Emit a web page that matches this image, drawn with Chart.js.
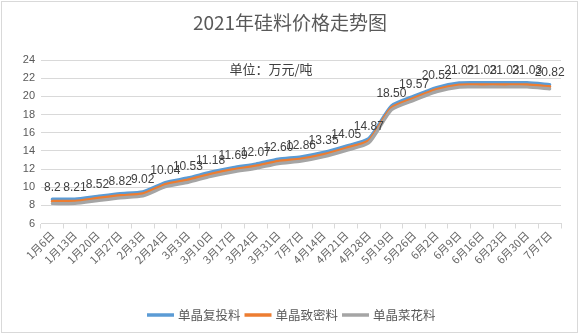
<!DOCTYPE html>
<html>
<head>
<meta charset="utf-8">
<script src="https://cdn.jsdelivr.net/npm/chart.js@4/dist/chart.umd.min.js"></script>
<style>
  html, body { margin: 0; padding: 0; background: #fff; }
  #wrap { width: 580px; height: 335px; }
</style>
</head>
<body>
<div id="wrap"><canvas id="priceChart" width="580" height="335"></canvas></div>
<script>
const categories = ["1月6日", "1月13日", "1月20日", "1月27日", "2月3日", "2月24日", "3月3日", "3月10日", "3月17日", "3月24日", "3月31日", "7月7日",
  "4月14日", "4月21日", "4月28日", "5月19日", "5月26日", "6月2日", "6月9日", "6月16日", "6月23日", "6月30日", "7月7日"];

const seriesNames = ["单晶复投料", "单晶致密料", "单晶菜花料"];
const seriesColors = ["#5b9bd5", "#ed7d31", "#a5a5a5"];

// 复投料 / 致密料 prices (万元/吨)
const fuTouPrices = [8.68, 8.69, 9.0, 9.3, 9.5, 10.52, 11.02, 11.66, 12.17, 12.55, 13.08, 13.34, 13.83, 14.53, 15.35, 18.95, 20.03, 20.98, 21.48, 21.5, 21.5, 21.5, 21.3];
const zhiMiPrices = [8.44, 8.45, 8.76, 9.06, 9.26, 10.28, 10.78, 11.42, 11.93, 12.31, 12.84, 13.1, 13.59, 14.29, 15.11, 18.72, 19.8, 20.75, 21.25, 21.26, 21.26, 21.26, 21.06];
// 菜花料 prices, kept as printed so the labels keep their format
const caiHuaPrices = ["8.2", "8.21", "8.52", "8.82", "9.02", "10.04", "10.53", "11.18", "11.69", "12.07", "12.60", "12.86", "13.35", "14.05", "14.87",
  "18.50", "19.57", "20.52", "21.02", "21.03", "21.03", "21.03", "20.82"];

const yMin = 6, yMax = 24, yStep = 2;

const titleText = "2021年硅料价格走势图";
const unitText = "单位：万元/吨";

const cjk = '"Noto Sans CJK SC", "Noto Sans", sans-serif';
const latin = '"Liberation Sans", Arial, sans-serif';

const decorations = {
  id: "decorations",
  afterDatasetsDraw(chart) {
    const ctx = chart.ctx;
    // value labels above the 菜花料 line
    const meta = chart.getDatasetMeta(2);
    ctx.save();
    ctx.font = "12px " + latin;
    ctx.fillStyle = "#404040";
    ctx.textAlign = "center";
    ctx.textBaseline = "middle";
    meta.data.forEach((pt, i) => ctx.fillText(caiHuaPrices[i], pt.x, pt.y - 16));
    ctx.restore();
  },
  afterDraw(chart) {
    const ctx = chart.ctx;
    ctx.save();
    ctx.strokeStyle = "#d9d9d9";
    ctx.lineWidth = 1;
    ctx.strokeRect(1.5, 1.5, 576, 331);

    ctx.fillStyle = "#595959";
    ctx.textAlign = "center";
    ctx.textBaseline = "middle";
    ctx.font = "19px " + cjk;
    ctx.fillText(titleText, 290, 23);

    ctx.fillStyle = "#404040";
    ctx.font = "13px " + cjk;
    ctx.fillText(unitText, 271, 69);

    // legend
    let x = 147;
    const y = 315;
    ctx.font = "12.5px " + cjk;
    ctx.textAlign = "left";
    seriesNames.forEach((name, i) => {
      ctx.strokeStyle = seriesColors[i];
      ctx.lineWidth = 3.5;
      ctx.beginPath();
      ctx.moveTo(x, y);
      ctx.lineTo(x + 27, y);
      ctx.stroke();
      ctx.fillStyle = "#595959";
      ctx.fillText(name, x + 31, y);
      x += 31 + ctx.measureText(name).width + 4;
    });
    ctx.restore();
  }
};

function lineSet(i, values) {
  return {
    label: seriesNames[i],
    data: values,
    borderColor: seriesColors[i],
    backgroundColor: seriesColors[i],
    borderWidth: 3.2,
    pointRadius: 0,
    tension: 0.2,
    borderCapStyle: "round",
    borderJoinStyle: "round",
    order: 3 - i
  };
}

new Chart(document.getElementById("priceChart"), {
  type: "line",
  data: {
    labels: categories,
    datasets: [
      lineSet(0, fuTouPrices),
      lineSet(1, zhiMiPrices),
      lineSet(2, caiHuaPrices.map(Number))
    ]
  },
  options: {
    responsive: false,
    animation: false,
    events: [],
    layout: { padding: { top: 60, right: 19, left: 0, bottom: 0 } },
    plugins: { legend: { display: false }, title: { display: false }, tooltip: { enabled: false } },
    scales: {
      x: {
        offset: true,
        grid: { display: true, offset: true, drawOnChartArea: false, color: "#d9d9d9", tickLength: 5 },
        border: { color: "#d9d9d9" },
        ticks: { autoSkip: false, minRotation: 45, maxRotation: 45, color: "#666666", font: { family: cjk, size: 11 }, padding: 0 },
        afterFit(scale) { scale.height = 111.5; }
      },
      y: {
        min: yMin,
        max: yMax,
        grid: { color: "#d9d9d9", drawTicks: false },
        border: { display: false },
        ticks: { stepSize: yStep, color: "#595959", font: { family: latin, size: 11 }, padding: 6 },
        afterFit(scale) { scale.width = 41; }
      }
    }
  },
  plugins: [decorations]
});
</script>
</body>
</html>
